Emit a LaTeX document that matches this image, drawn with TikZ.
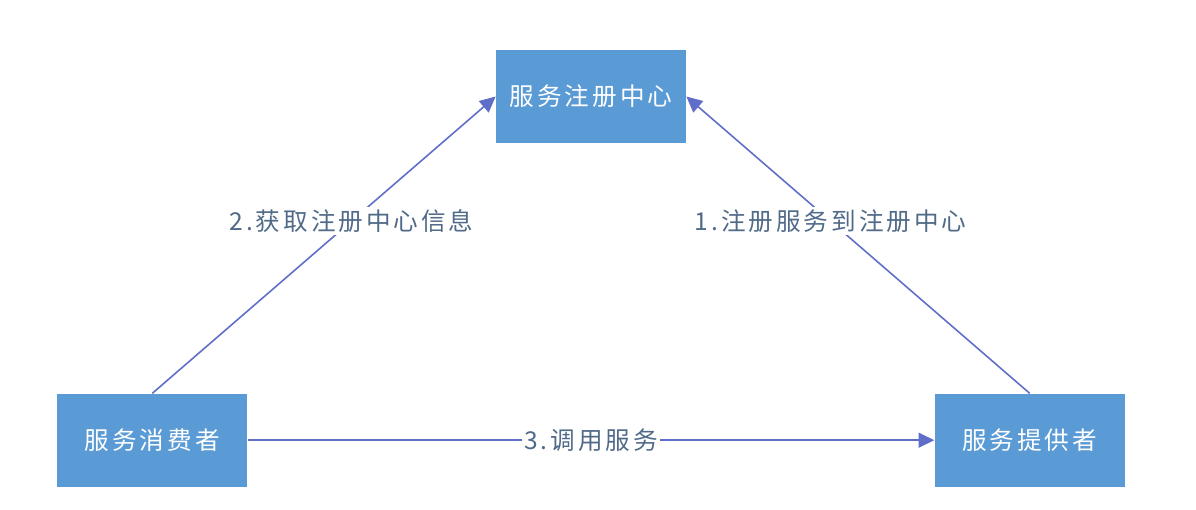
\documentclass[tikz,border=0pt]{standalone}
\usepackage{fontspec}
\usepackage{tikz}
\usetikzlibrary{arrows.meta,positioning}
\newfontfamily\cjk[LetterSpace=12]{Noto Sans CJK SC}
\definecolor{boxblue}{RGB}{91,155,213}
\definecolor{linkblue}{RGB}{95,110,200}
\definecolor{labelgray}{RGB}{80,106,136}

\begin{document}
\begin{tikzpicture}[
    node distance=5cm and 4.96cm,
    block/.style={fill=boxblue, text=white, align=center, minimum height=1.86cm, minimum width=3.8cm, font=\cjk\fontsize{14pt}{16pt}\selectfont},
    arrow/.style={-{Triangle[length=9pt,width=8.5pt]}, draw=linkblue, line width=0.9pt},
    tag/.style={fill=white, text=labelgray, inner sep=1.5pt, font=\cjk\fontsize{14pt}{16pt}\selectfont}
]
\useasboundingbox (0,0) rectangle (23.92,10.18);
\node[block] (registry) at (11.82,8.25) {服务注册中心};
\node[block, below left=of registry] (consumer) {服务消费者};
\node[block, below right=of registry] (provider) {服务提供者};
\draw[arrow] (consumer.north) -- node[tag, pos=0.58] {2.获取注册中心信息} (registry.west);
\draw[arrow] (provider.north) -- node[tag, pos=0.58] {1.注册服务到注册中心} (registry.east);
\draw[arrow] (consumer) -- node[tag] {3.调用服务} (provider);
\end{tikzpicture}
\end{document}
